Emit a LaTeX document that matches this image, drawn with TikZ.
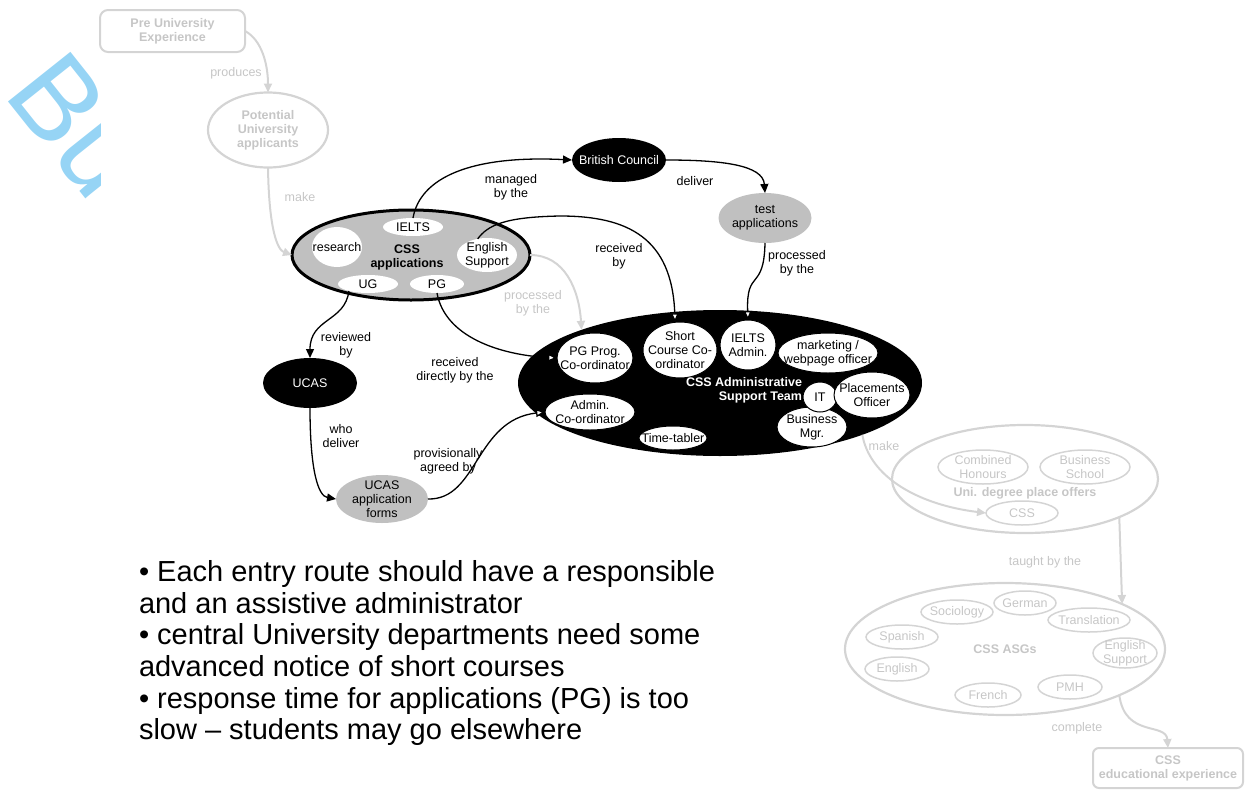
\documentclass[tikz,border=0pt]{standalone}
\usepackage{fontspec}
\setmainfont{Liberation Sans}
\usetikzlibrary{shapes.geometric,arrows.meta}
\definecolor{fade}{RGB}{212,212,212}
\definecolor{fadetxt}{RGB}{198,198,198}
\definecolor{midgray}{RGB}{192,192,192}
\definecolor{wmark}{RGB}{150,212,245}
\tikzset{
  every node/.style={inner sep=0pt, outer sep=0pt, align=center, font=\fontsize{12.5}{14}\selectfont},
  el/.style 2 args={ellipse, minimum width=#1pt, minimum height=#2pt},
  bf/.style={font=\fontsize{12.5}{14}\selectfont\bfseries},
  T/.style={label={[align=center]center:#1}},
  TW/.style={label={[align=center,text=white]center:#1}},
  TF/.style={label={[align=center,text=fadetxt]center:#1}},
  TFB/.style={label={[align=center,text=fadetxt,font=\fontsize{12.5}{14}\selectfont\bfseries]center:#1}},
  wh/.style={fill=white},
  whb/.style={fill=white, draw=black, line width=1pt},
  blk/.style={fill=black},
  gry/.style={fill=midgray},
  fell/.style={draw=fade, line width=2.2pt},
  fin/.style={draw=fade, line width=1.5pt},
  flab/.style={text=fadetxt},
  conn/.style={draw=black, line width=1.3pt, -{Triangle[length=9pt,width=8pt]}},
  connw/.style={draw=black, line width=1.3pt, -{Triangle[length=9pt,width=8pt,fill=white]}},
  fconn/.style={draw=fade, line width=2pt, -{Triangle[length=9pt,width=8pt]}},
  bul/.style={anchor=base west, align=left, font=\fontsize{29}{30}\selectfont},
}
\begin{document}
\begin{tikzpicture}[x=1pt,y=-1pt]
\useasboundingbox (0,0) rectangle (1245,790);

% watermark
\begin{scope}
\clip (0,0) rectangle (100,240);
\node[text=wmark, font=\fontsize{116}{116}\selectfont, rotate=-51.5, anchor=base west] (wm) at (2,94) {Bu};
\end{scope}

% faded left part
\node[draw=fade, line width=2pt, rounded corners=8pt, minimum width=145pt, minimum height=42pt, text=fadetxt, bf] (pre) at (172.5,31) {Pre University\\Experience};
\node[el={120}{75}, fell, TFB={Potential\\University\\applicants}] (pot) at (268,130) {};

% CSS applications
\node[el={238}{90}, gry, draw=black, line width=3pt] (app) at (411,255) {};
\node[bf] (applbl) at (407,257) {CSS\\applications};
\node[el={60}{18}, wh, T={IELTS}] (ielts) at (413,227) {};
\node[el={50}{40}, wh, T={research}] (res) at (337,247) {};
\node[el={60}{34}, wh, T={English\\Support}] (eng) at (487,255) {};
\node[el={60}{18}, wh, T={UG}] (ug) at (368,284) {};
\node[el={54}{18}, wh, T={PG}] (pg) at (437,284) {};

% British Council, test applications
\node[el={94}{44}, blk, TW={British Council}] (bc) at (619,160) {};
\node[el={93}{50}, gry, T={test\\applications}] (ta) at (765,218) {};

% UCAS
\node[el={94}{50}, blk, TW={UCAS}] (ucas) at (310,383) {};
\node[el={92}{48}, gry, T={UCAS\\application\\forms}] (uf) at (382,499) {};

% Admin team
\node[el={404}{146}, blk] (team) at (720,383) {};
\node[el={76}{50}, whb, T={PG Prog.\\Co-ordinator}] (pgp) at (595,358) {};
\node[el={74}{56}, whb, T={Short\\Course Co-\\ordinator}] (sc) at (680,350) {};
\node[el={56}{50}, whb, T={IELTS\\Admin.}] (iad) at (748,345) {};
\node[el={100}{40}, whb, T={marketing /\\webpage officer}] (mkt) at (828,353) {};
\node[el={90}{36}, whb, T={Admin.\\Co-ordinator}] (adc) at (590,412) {};
\node[el={68}{24}, whb, T={Time-tabler}] (tt) at (673,438) {};
\node[el={70}{40}, whb, T={Business\\Mgr.}] (bm) at (812,427) {};
\node[el={34}{30}, whb, T={IT}] (it) at (820,397) {};
\node[el={76}{46}, whb, T={Placements\\Officer}] (plc) at (872,395) {};
\node[bf, text=white, align=right, anchor=east] (teamlbl) at (802,390) {CSS Administrative\\Support Team};

% faded right part
\node[el={266}{108}, fell] (uni) at (1025,479) {};
\node[el={90}{34}, fin, TF={Combined\\Honours}] (ch) at (983,467) {};
\node[el={90}{34}, fin, TF={Business\\School}] (bs) at (1085,467) {};
\node[bf, text=fadetxt] (unilbl) at (1025,493) {Uni. degree place offers};
\node[el={72}{24}, fin, TF={CSS}] (css) at (1022,513) {};

\node[el={320}{132}, fell, TFB={CSS ASGs}] (asg) at (1005,649) {};
\node[el={72}{24}, fin, TF={Sociology}] (soc) at (957,612) {};
\node[el={62}{24}, fin, TF={German}] (ger) at (1025,603) {};
\node[el={82}{24}, fin, TF={Translation}] (tra) at (1089,620) {};
\node[el={72}{24}, fin, TF={Spanish}] (spa) at (902,637) {};
\node[el={64}{30}, fin, TF={English\\Support}] (eng2) at (1125,653) {};
\node[el={64}{24}, fin, TF={English}] (engl) at (897,669) {};
\node[el={64}{24}, fin, TF={PMH}] (pmh) at (1070,687) {};
\node[el={66}{24}, fin, TF={French}] (fre) at (988,695) {};

\node[draw=fade, line width=2pt, rounded corners=6pt, minimum width=150pt, minimum height=40pt, text=fadetxt, bf] (edu) at (1168,768) {CSS\\educational experience};

% connector labels
\node (l1) at (511,187) {managed\\by the};
\node (l2) at (695,181) {deliver};
\node (l3) at (619,256) {received\\by};
\node (l4) at (797,263) {processed\\by the};
\node (l5) at (346,345) {reviewed\\by};
\node (l6) at (455,370) {received\\directly by the};
\node (l7) at (341,436) {who\\deliver};
\node (l8) at (448,461) {provisionally\\agreed by};
\node[flab] (l9) at (533,303) {processed\\by the};
\node[flab] (l10) at (236,73) {produces};
\node[flab] (l11) at (300,197) {make};
\node[flab] (l12) at (884,446) {make};
\node[flab] (l13) at (1045,562) {taught by the};
\node[flab] (l14) at (1077,728) {complete};

% faded connectors
\draw[fconn] (pre.east) .. controls (262,40) and (268,65) .. (pot.north);
\draw[fconn] (pot.south) .. controls (269,232) and (278,250) .. (app.west);
\draw[fconn] (app.east) .. controls (565,255) and (579,290) .. (team.159.5);
\draw[fconn] (team.-20) .. controls (870,478) and (920,505) .. (css.west);
\draw[fconn] (uni.-22.7) -- (asg.21.8);
\draw[fconn] (asg.-22.3) .. controls (1125,738) and (1166,722) .. (edu.north);

% black connectors
\draw[conn] (ielts.north) .. controls (420,178) and (470,155) .. (bc.west);
\draw[conn] (bc.east) .. controls (722,160) and (763,165) .. (ta.north);
\draw[connw] (eng.120) .. controls (488,225) and (505,217) .. (560,216) .. controls (628,216) and (672,238) .. (sc.100);
\draw[connw] (ta.south) .. controls (764,292) and (746,268) .. (iad.north);
\draw[conn] (ug.200) .. controls (345,322) and (310,318) .. (ucas.north);
\draw[connw] (pg.south) .. controls (445,337) and (500,355) .. (pgp.west);
\draw[conn] (ucas.south) .. controls (310,470) and (318,496) .. (uf.west);
\draw[connw] (uf.east) .. controls (478,500) and (475,420) .. (adc.west);

% bullet text
\node[bul] (b1) at (139,581) {• Each entry route should have a responsible};
\node[bul] (b2) at (139,613) {and an assistive administrator};
\node[bul] (b3) at (139,644) {• central University departments need some};
\node[bul] (b4) at (139,676) {advanced notice of short courses};
\node[bul] (b5) at (139,708) {• response time for applications (PG) is too};
\node[bul] (b6) at (139,739) {slow – students may go elsewhere};
\end{tikzpicture}
\end{document}
